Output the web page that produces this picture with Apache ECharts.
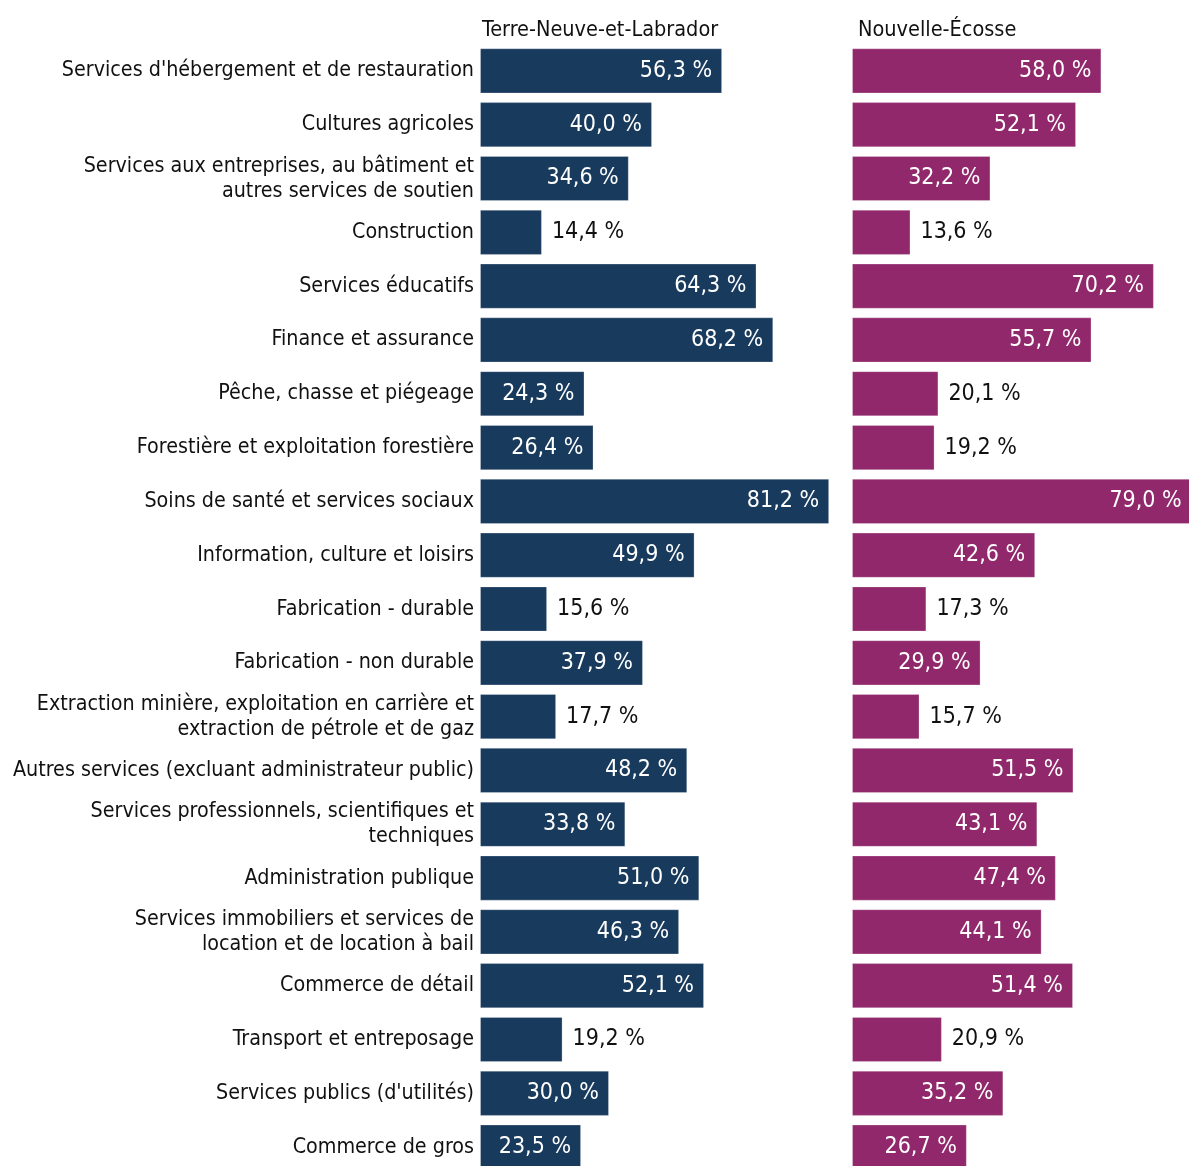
<!DOCTYPE html>
<html><head><meta charset="utf-8">
<script src="https://cdn.jsdelivr.net/npm/echarts@6/dist/echarts.min.js"></script>
<style>html,body{margin:0;padding:0;background:#fff}#c{width:1189px;height:1166px}</style>
</head><body><div id="c"></div>
<script>
const categories = [
  "Services d'hébergement et de restauration",
  "Cultures agricoles",
  "Services aux entreprises, au bâtiment et\nautres services de soutien",
  "Construction",
  "Services éducatifs",
  "Finance et assurance",
  "Pêche, chasse et piégeage",
  "Forestière et exploitation forestière",
  "Soins de santé et services sociaux",
  "Information, culture et loisirs",
  "Fabrication - durable",
  "Fabrication - non durable",
  "Extraction minière, exploitation en carrière et\nextraction de pétrole et de gaz",
  "Autres services (excluant administrateur public)",
  "Services professionnels, scientifiques et\ntechniques",
  "Administration publique",
  "Services immobiliers et services de\nlocation et de location à bail",
  "Commerce de détail",
  "Transport et entreposage",
  "Services publics (d'utilités)",
  "Commerce de gros"
];
const seriesNames = ["Terre-Neuve-et-Labrador", "Nouvelle-Écosse"];
const valuesNL = [56.3, 40.0, 34.6, 14.4, 64.3, 68.2, 24.3, 26.4, 81.2, 49.9, 15.6, 37.9, 17.7, 48.2, 33.8, 51.0, 46.3, 52.1, 19.2, 30.0, 23.5];
const valuesNS = [58.0, 52.1, 32.2, 13.6, 70.2, 55.7, 20.1, 19.2, 79.0, 42.6, 17.3, 29.9, 15.7, 51.5, 43.1, 47.4, 44.1, 51.4, 20.9, 35.2, 26.7];

const FONT = "'Liberation Sans Narrow','DejaVu Sans Condensed','Liberation Sans',sans-serif";
const colors = ['#183a5d', '#90286b'];
const fmt = v => v.toFixed(1).replace('.', ',') + ' %';

function mkData(vals) {
  return vals.map(v => {
    const inside = v >= 21;
    return {
      value: v,
      label: {
        position: inside ? 'insideRight' : 'right',
        distance: 10,
        color: inside ? '#ffffff' : '#111111'
      }
    };
  });
}

const TOP = 44, HEIGHT = 1130, SCALE = 4.3;
const chart = echarts.init(document.getElementById('c'), null, {renderer: 'canvas'});
chart.setOption({
  backgroundColor: '#ffffff',
  animation: false,
  title: [
    {text: seriesNames[0], left: 477, top: 14, textStyle: {fontFamily: FONT, fontSize: 21.5, fontWeight: 'normal', color: '#111'}},
    {text: seriesNames[1], left: 853, top: 14, textStyle: {fontFamily: FONT, fontSize: 21.5, fontWeight: 'normal', color: '#111'}}
  ],
  grid: [
    {left: 480, top: TOP, width: 100 * SCALE, height: HEIGHT, containLabel: false, outerBoundsMode: 'none'},
    {left: 852, top: TOP, width: 100 * SCALE, height: HEIGHT, containLabel: false, outerBoundsMode: 'none'}
  ],
  xAxis: [
    {type: 'value', gridIndex: 0, min: 0, max: 100, show: false},
    {type: 'value', gridIndex: 1, min: 0, max: 100, show: false}
  ],
  yAxis: [
    {type: 'category', gridIndex: 0, data: categories, inverse: true,
     axisLine: {show: false}, axisTick: {show: false},
     axisLabel: {margin: 6, fontFamily: FONT, fontSize: 21.3, color: '#111', lineHeight: 25, align: 'right'}},
    {type: 'category', gridIndex: 1, data: categories, inverse: true, show: false}
  ],
  series: [
    {type: 'bar', name: seriesNames[0], xAxisIndex: 0, yAxisIndex: 0, data: mkData(valuesNL),
     barCategoryGap: '16%', itemStyle: {color: colors[0], borderColor: 'rgba(255,255,255,0.25)', borderWidth: 1},
     label: {show: true, formatter: p => fmt(p.value), fontFamily: FONT, fontSize: 23}},
    {type: 'bar', name: seriesNames[1], xAxisIndex: 1, yAxisIndex: 1, data: mkData(valuesNS),
     barCategoryGap: '16%', itemStyle: {color: colors[1], borderColor: 'rgba(255,255,255,0.25)', borderWidth: 1},
     label: {show: true, formatter: p => fmt(p.value), fontFamily: FONT, fontSize: 23}}
  ]
});
</script></body></html>
